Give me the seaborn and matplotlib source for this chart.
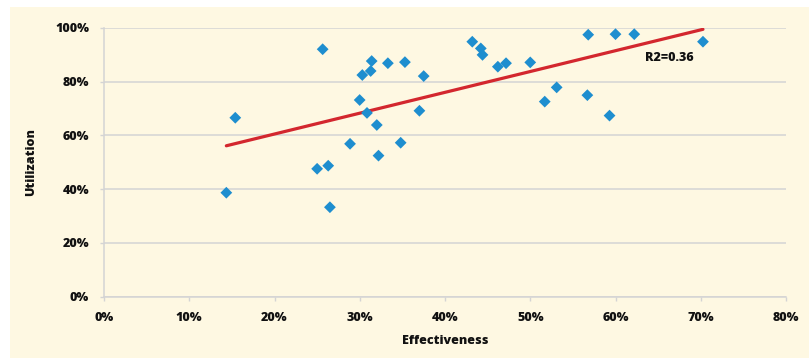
import numpy as np
import pandas as pd
import matplotlib
matplotlib.use("Agg")
import matplotlib.pyplot as plt
import seaborn as sns
from matplotlib.patches import Rectangle
from matplotlib.ticker import PercentFormatter, MultipleLocator

# values
effectiveness = [0.1435, 0.154, 0.250, 0.2565, 0.263, 0.265, 0.2886, 0.2999, 0.303,
                 0.3085, 0.3128, 0.314, 0.320, 0.322, 0.333, 0.348, 0.353, 0.370,
                 0.375, 0.432, 0.442, 0.444, 0.462, 0.4716, 0.500, 0.517, 0.531,
                 0.567, 0.568, 0.593, 0.600, 0.622, 0.7026]
utilization = [0.387, 0.666, 0.476, 0.921, 0.4875, 0.333, 0.569, 0.732, 0.825,
               0.684, 0.840, 0.877, 0.639, 0.525, 0.869, 0.573, 0.873, 0.692,
               0.821, 0.949, 0.924, 0.900, 0.856, 0.869, 0.872, 0.726, 0.779,
               0.750, 0.975, 0.674, 0.977, 0.977, 0.949]
r2_label = "R2=0.36"

df = pd.DataFrame({"Effectiveness": effectiveness, "Utilization": utilization})

cream = "#FEF8E2"
grid_c = "#D4D4D4"
blue = "#1E8ECF"
red = "#D3272E"
ink = "#111111"
weight = "heavy"

sns.set_style("white")
plt.rcParams["font.family"] = ["Open Sans", "DejaVu Sans"]

W, H = 809, 358
fig = plt.figure(figsize=(W / 100, H / 100), dpi=100)
fig.patch.set_facecolor("white")
fig.patches.append(Rectangle((10 / W, 0), 1, 351 / H, transform=fig.transFigure,
                             facecolor=cream, edgecolor="none", zorder=-1))

ax = fig.add_axes([104 / W, 61.3 / H, 682 / W, 268.7 / H])
ax.set_facecolor(cream)

sns.regplot(data=df, x="Effectiveness", y="Utilization", scatter=False, ci=None,
            color=red, line_kws={"linewidth": 2.3, "zorder": 2}, ax=ax)
sns.scatterplot(data=df, x="Effectiveness", y="Utilization", marker="D", s=36,
                color=blue, edgecolor="none", linewidth=0, zorder=3, ax=ax)

ax.text(0.663, 0.888, r2_label, ha="center", va="center", fontsize=9,
        fontweight=weight, color=ink)

ax.set_xlim(0, 0.8)
ax.set_ylim(0, 1.0)
ax.xaxis.set_major_locator(MultipleLocator(0.1))
ax.yaxis.set_major_locator(MultipleLocator(0.2))
ax.xaxis.set_major_formatter(PercentFormatter(1.0, decimals=0))
ax.yaxis.set_major_formatter(PercentFormatter(1.0, decimals=0))

ax.grid(axis="y", color=grid_c, linewidth=1.1)
ax.grid(axis="x", visible=False)
ax.set_axisbelow(True)
for side in ["top", "right"]:
    ax.spines[side].set_visible(False)
for side in ["left", "bottom"]:
    ax.spines[side].set_color(grid_c)
    ax.spines[side].set_linewidth(1.1)

ax.tick_params(axis="both", which="major", direction="out", length=3.2, width=1.0,
               color=grid_c, labelsize=9, labelcolor=ink, pad=7.5)
ax.tick_params(axis="x", bottom=True)
ax.tick_params(axis="y", left=True)
for lab in ax.get_xticklabels() + ax.get_yticklabels():
    lab.set_fontweight(weight)

ax.set_xlabel("Effectiveness", fontsize=9, fontweight=weight, color=ink, labelpad=8)
ax.set_ylabel("Utilization", fontsize=9, fontweight=weight, color=ink, labelpad=13)

fig.savefig("out.png", dpi=100, facecolor=fig.get_facecolor())
